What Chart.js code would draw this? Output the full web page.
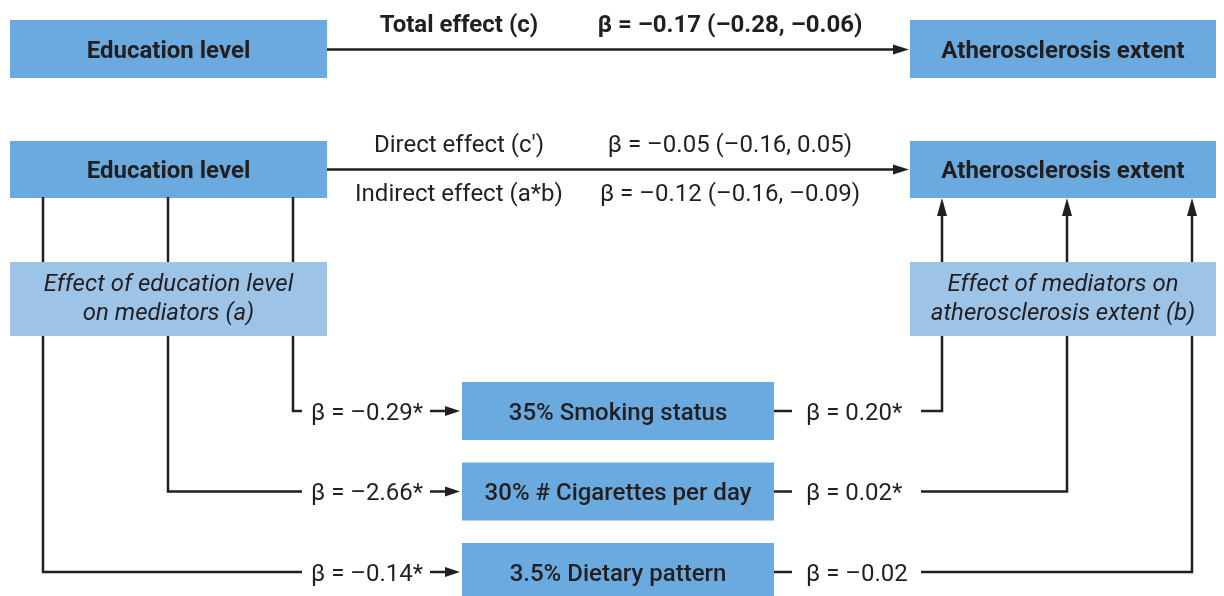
<!DOCTYPE html>
<html>
<head>
<meta charset="utf-8">
<script src="https://cdn.jsdelivr.net/npm/chart.js@4"></script>
<style>
  html, body { margin: 0; padding: 0; background: #ffffff; }
  #wrap { width: 1224px; height: 596px; }
  canvas { display: block; }
</style>
</head>
<body>
<div id="wrap"><canvas id="c" width="1224" height="596"></canvas></div>
<script>
// ---- data ----
const exposureLabel = 'Education level';
const outcomeLabel = 'Atherosclerosis extent';
const effectNames = ['Total effect (c)', "Direct effect (c')", 'Indirect effect (a*b)'];
const effectBeta = [-0.17, -0.05, -0.12];
const effectLower = [-0.28, -0.16, -0.16];
const effectUpper = [-0.06, 0.05, -0.09];
const mediatorNames = ['Smoking status', '# Cigarettes per day', 'Dietary pattern'];
const mediatedPct = [35, 30, 3.5];
const aBeta = [-0.29, -2.66, -0.14];
const aSignificant = [true, true, true];
const bBeta = [0.20, 0.02, -0.02];
const bSignificant = [true, true, false];
const aPathLabel = ['Effect of education level', 'on mediators (a)'];
const bPathLabel = ['Effect of mediators on', 'atherosclerosis extent (b)'];

// ---- helpers ----
const fmt = v => (v < 0 ? '\u2013' : '') + Math.abs(v).toFixed(2);
const betaText = (v, sig) => '\u03B2 = ' + fmt(v) + (sig ? '*' : '');
const ciText = (b, l, u) => '\u03B2 = ' + fmt(b) + ' (' + fmt(l) + ', ' + fmt(u) + ')';

const INK = '#231f20';
const BLUE = '#6aaade';
const LIGHT = '#9dc3e7';
const FONT = 'Roboto, "Noto Sans", sans-serif';

const diagramPlugin = {
  id: 'diagram',
  afterDraw(chart) {
    const ctx = chart.ctx;
    const sx = chart.scales.x, sy = chart.scales.y;
    const X = v => sx.getPixelForValue(v);
    const Y = v => sy.getPixelForValue(v);

    function box(x0, y0, x1, y1, color) {
      ctx.fillStyle = color;
      ctx.fillRect(X(x0), Y(y0), X(x1) - X(x0), Y(y1) - Y(y0));
    }
    function text(str, x, y, opts) {
      const o = Object.assign({ size: 24, weight: 400, italic: false, align: 'center' }, opts || {});
      ctx.font = (o.italic ? 'italic ' : '') + o.weight + ' ' + o.size + 'px ' + FONT;
      ctx.fillStyle = INK;
      ctx.textAlign = o.align;
      ctx.textBaseline = 'alphabetic';
      ctx.fillText(str, X(x), Y(y));
    }
    function line(pts) {
      ctx.strokeStyle = INK;
      ctx.lineWidth = 2.5;
      ctx.lineCap = 'butt';
      ctx.lineJoin = 'miter';
      ctx.beginPath();
      pts.forEach((p, i) => i ? ctx.lineTo(X(p[0]), Y(p[1])) : ctx.moveTo(X(p[0]), Y(p[1])));
      ctx.stroke();
    }
    function arrowHead(tx, ty, dir, len, half) {
      ctx.fillStyle = INK;
      ctx.beginPath();
      if (dir === 'right') {
        ctx.moveTo(X(tx), Y(ty));
        ctx.lineTo(X(tx - len), Y(ty - half));
        ctx.lineTo(X(tx - len), Y(ty + half));
      } else { // up
        ctx.moveTo(X(tx), Y(ty));
        ctx.lineTo(X(tx - half), Y(ty + len));
        ctx.lineTo(X(tx + half), Y(ty + len));
      }
      ctx.closePath();
      ctx.fill();
    }

    const capMid = 8.5;

    // Row 1: total effect
    box(10, 20, 327, 78, BLUE);
    box(910, 20, 1216, 78, BLUE);
    text(exposureLabel, 168.5, 49 + capMid, { weight: 700 });
    text(outcomeLabel, 1063, 49 + capMid, { weight: 700 });
    line([[327, 49.5], [896, 49.5]]);
    arrowHead(909, 49.5, 'right', 16, 5);
    text(effectNames[0], 459, 32, { weight: 700 });
    text(ciText(effectBeta[0], effectLower[0], effectUpper[0]), 730, 32, { weight: 700 });

    // Row 2: direct / indirect
    box(10, 141, 327, 198, BLUE);
    box(910, 141, 1216, 198, BLUE);
    text(exposureLabel, 168.5, 169.5 + capMid, { weight: 700 });
    text(outcomeLabel, 1063, 169.5 + capMid, { weight: 700 });
    line([[327, 169.5], [896, 169.5]]);
    arrowHead(909, 169.5, 'right', 16, 5);
    text(effectNames[1], 459, 152);
    text(ciText(effectBeta[1], effectLower[1], effectUpper[1]), 730, 152);
    text(effectNames[2], 459, 201);
    text(ciText(effectBeta[2], effectLower[2], effectUpper[2]), 730, 201);

    // Path boxes
    box(10, 262, 327, 336, LIGHT);
    box(910, 262, 1216, 336, LIGHT);
    text(aPathLabel[0], 168.5, 291, { italic: true });
    text(aPathLabel[1], 168.5, 320, { italic: true });
    text(bPathLabel[0], 1063, 291, { italic: true });
    text(bPathLabel[1], 1063, 320, { italic: true });

    // Mediator rows
    const leftX = [293, 168, 43];
    const rightX = [942, 1067, 1192];
    mediatorNames.forEach((name, i) => {
      const cy = 411 + i * 80.5;
      box(462, cy - 29, 774, cy + 29, BLUE);
      text(mediatedPct[i] + '% ' + name, 618, cy + capMid, { weight: 500 });

      // a path
      line([[leftX[i], 197], [leftX[i], 262]]);
      line([[leftX[i], 336], [leftX[i], cy], [302, cy]]);
      text(betaText(aBeta[i], aSignificant[i]), 311, cy + capMid, { align: 'left' });
      line([[430, cy], [448, cy]]);
      arrowHead(460, cy, 'right', 15, 5);

      // b path
      line([[774, cy], [792, cy]]);
      text(betaText(bBeta[i], bSignificant[i]), 806, cy + capMid, { align: 'left' });
      line([[921, cy], [rightX[i], cy], [rightX[i], 336]]);
      line([[rightX[i], 262], [rightX[i], 212]]);
      arrowHead(rightX[i], 198, 'up', 18, 5);
    });
  }
};

new Chart(document.getElementById('c'), {
  type: 'scatter',
  data: { datasets: [{ data: [], pointRadius: 0 }] },
  options: {
    responsive: false,
    animation: false,
    devicePixelRatio: 1,
    layout: { padding: 0 },
    plugins: { legend: { display: false }, tooltip: { enabled: false }, title: { display: false } },
    scales: {
      x: { type: 'linear', min: 0, max: 1224, display: false },
      y: { type: 'linear', min: 0, max: 596, reverse: true, display: false }
    }
  },
  plugins: [diagramPlugin]
});
</script>
</body>
</html>
